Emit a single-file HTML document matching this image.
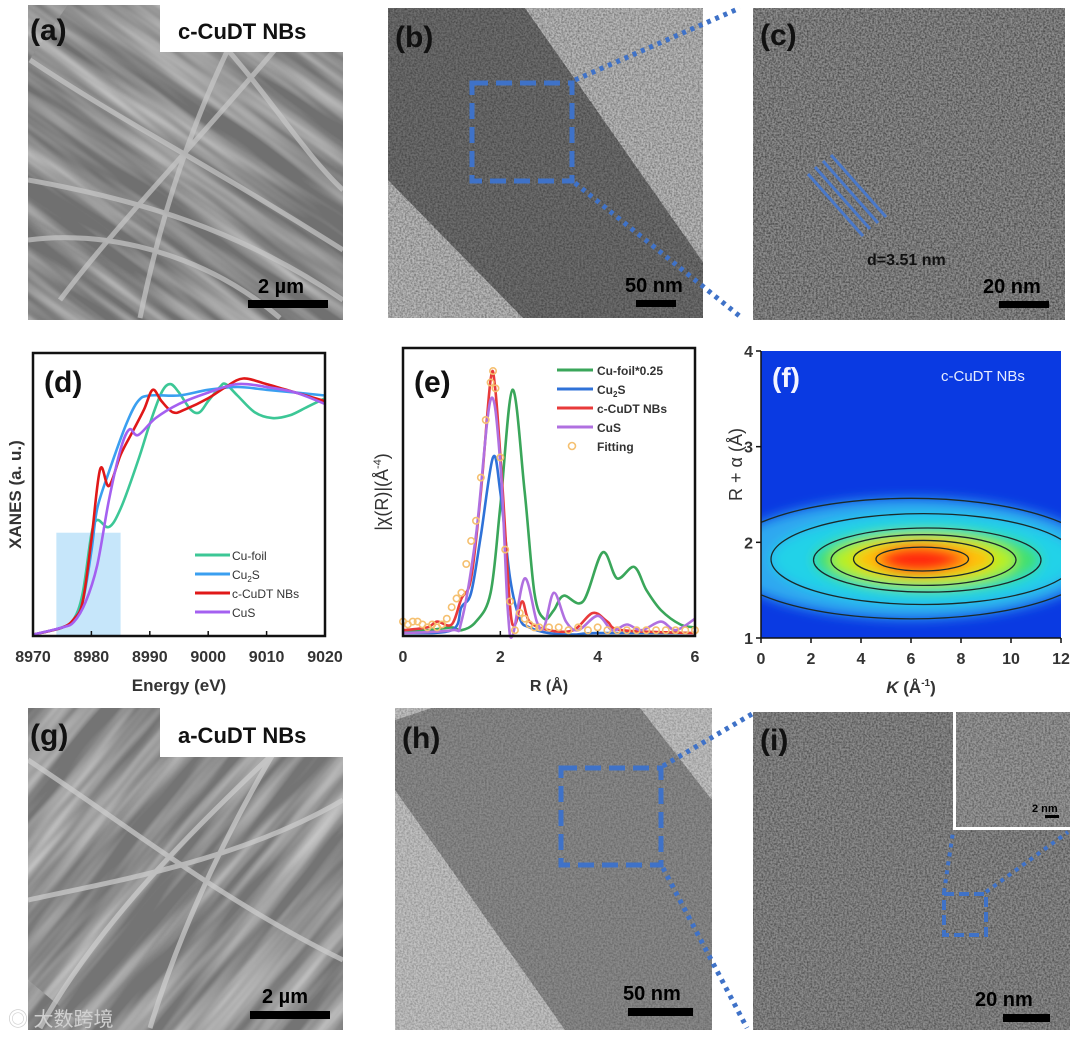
<!DOCTYPE html>
<html><head><meta charset="utf-8"><style>
html,body{margin:0;padding:0;background:#fff;width:1080px;height:1039px;overflow:hidden;font-family:"Liberation Sans",Arial,sans-serif}
svg{position:absolute;left:0;top:0;display:block;height:1039px}
text{font-family:"Liberation Sans",Arial,sans-serif}
</style></head><body>
<svg id="fig" width="1080" height="1039" viewBox="0 0 1080 1039">
<defs>
<filter id="grain" x="0" y="0" width="100%" height="100%">
 <feTurbulence type="fractalNoise" baseFrequency="0.55" numOctaves="2" seed="3" result="n"/>
 <feColorMatrix type="matrix" values="0 0 0 0 0  0 0 0 0 0  0 0 0 0 0  1.4 0 0 0 -0.45" />
 <feComposite in2="SourceGraphic" operator="in"/>
</filter>
<filter id="fibers" x="0" y="0" width="100%" height="100%">
 <feTurbulence type="fractalNoise" baseFrequency="0.004 0.05" numOctaves="3" seed="7"/>
 <feColorMatrix type="matrix" values="0 0 0 0 1  0 0 0 0 1  0 0 0 0 1  1.6 0 0 0 -0.55"/>
</filter>
<pattern id="fibA" patternUnits="userSpaceOnUse" width="600" height="600" patternTransform="rotate(35 185 160)">
 <rect x="0" y="0" width="600" height="600" filter="url(#fibers)"/>
</pattern>
<pattern id="fibG" patternUnits="userSpaceOnUse" width="600" height="600" patternTransform="rotate(-50 185 870)">
 <rect x="0" y="0" width="600" height="600" filter="url(#fibers)"/>
</pattern>
<filter id="blur3"><feGaussianBlur stdDeviation="6"/></filter>
<clipPath id="clipA"><rect x="28" y="5" width="315" height="315"/></clipPath>
<clipPath id="clipG"><rect x="28" y="708" width="315" height="322"/></clipPath>
<clipPath id="clipF"><rect x="761" y="351" width="300" height="287"/></clipPath>
</defs>

<!-- (a) SEM -->
<g clip-path="url(#clipA)">
 <rect x="28" y="5" width="315" height="315" fill="#707070"/>
 <rect x="28" y="5" width="315" height="315" fill="url(#fibA)" opacity="0.75"/>
 <g fill="none" stroke="#c8c8c8" stroke-width="5" opacity="0.7">
  <path d="M30 60 C120 120 200 160 343 250"/><path d="M60 300 C120 220 200 140 300 20"/>
  <path d="M28 180 C140 200 240 230 343 300"/><path d="M140 318 C160 220 190 120 250 5"/>
  <path d="M28 240 C100 230 200 250 280 318"/><path d="M200 20 C260 80 300 150 343 190"/>
 </g>
</g>
<rect x="160" y="5" width="183" height="47" fill="#fff"/>
<text x="30" y="40" font-size="30" font-weight="bold" fill="#111">(a)</text>
<text x="178" y="39" font-size="22" font-weight="bold" fill="#111">c-CuDT NBs</text>
<text x="258" y="293" font-size="20" font-weight="bold" fill="#000">2 µm</text>
<rect x="248" y="300" width="80" height="8" fill="#000"/>

<!-- (b) TEM -->
<g>
 <rect x="388" y="8" width="315" height="310" fill="#b9b9b9"/>
 <polygon points="388,8 525,8 703,262 703,318 523,318 388,180" fill="#6e6e6e"/>
 <rect x="388" y="8" width="315" height="310" fill="#fff" filter="url(#grain)" opacity="0.5"/>
</g>
<text x="395" y="47" font-size="30" font-weight="bold" fill="#111">(b)</text>
<rect x="472" y="83" width="100" height="98" fill="none" stroke="#3f72c8" stroke-width="5" stroke-dasharray="16 8"/>
<line x1="575" y1="80" x2="740" y2="8" stroke="#3f72c8" stroke-width="5" stroke-dasharray="4 5"/>
<line x1="575" y1="183" x2="742" y2="318" stroke="#3f72c8" stroke-width="5" stroke-dasharray="4 5"/>
<text x="625" y="292" font-size="20" font-weight="bold" fill="#000">50 nm</text>
<rect x="636" y="300" width="40" height="7" fill="#000"/>

<!-- (c) HRTEM -->
<g>
 <rect x="753" y="8" width="312" height="312" fill="#8e8e8e"/>
 <rect x="753" y="8" width="312" height="312" fill="#fff" filter="url(#grain)" opacity="0.7"/>
</g>
<text x="760" y="45" font-size="30" font-weight="bold" fill="#111">(c)</text>
<g stroke="#4a78c8" stroke-width="3">
 <line x1="808" y1="174" x2="863" y2="236"/><line x1="815" y1="167" x2="870" y2="229"/>
 <line x1="823" y1="161" x2="878" y2="223"/><line x1="831" y1="155" x2="886" y2="217"/>
</g>
<text x="867" y="265" font-size="16" font-weight="bold" fill="#111">d=3.51 nm</text>
<text x="983" y="293" font-size="20" font-weight="bold" fill="#000">20 nm</text>
<rect x="999" y="301" width="50" height="7" fill="#000"/>

<!-- (d) XANES -->
<g id="chartD"></g>
<!-- (e) FT-EXAFS -->
<g id="chartE"></g>
<!-- (f) WT -->
<g id="chartF"></g>

<!-- (g) SEM -->
<g clip-path="url(#clipG)">
 <rect x="28" y="708" width="315" height="322" fill="#747474"/>
 <rect x="28" y="708" width="315" height="322" fill="url(#fibG)" opacity="0.75"/>
 <g fill="none" stroke="#cfcfcf" stroke-width="5" opacity="0.7">
  <path d="M40 1028 C100 920 200 820 320 710"/><path d="M28 760 C120 820 220 900 343 960"/>
  <path d="M150 1028 C180 930 230 820 300 710"/><path d="M28 900 C120 880 240 860 343 800"/>
 </g>
</g>
<rect x="160" y="708" width="183" height="49" fill="#fff"/>
<text x="30" y="745" font-size="30" font-weight="bold" fill="#111">(g)</text>
<text x="178" y="743" font-size="22" font-weight="bold" fill="#111">a-CuDT NBs</text>
<text x="262" y="1003" font-size="20" font-weight="bold" fill="#000">2 µm</text>
<rect x="250" y="1011" width="80" height="8" fill="#000"/>
<text x="8" y="1026" font-size="20" fill="#d0d0d0" font-family="'Liberation Sans','Noto Sans CJK SC',sans-serif">◎ 大数跨境</text>

<!-- (h) TEM -->
<g>
 <rect x="395" y="708" width="317" height="322" fill="#c2c2c2"/>
 <polygon points="432,708 640,708 712,800 712,1030 565,1030 395,790 395,720" fill="#8a8a8a"/>
 <rect x="395" y="708" width="317" height="322" fill="#fff" filter="url(#grain)" opacity="0.35"/>
</g>
<text x="402" y="748" font-size="30" font-weight="bold" fill="#111">(h)</text>
<rect x="561" y="768" width="100" height="97" fill="none" stroke="#3f72c8" stroke-width="5" stroke-dasharray="16 8"/>
<line x1="663" y1="766" x2="752" y2="714" stroke="#3f72c8" stroke-width="5" stroke-dasharray="4 5"/>
<line x1="663" y1="868" x2="747" y2="1028" stroke="#3f72c8" stroke-width="5" stroke-dasharray="4 5"/>
<text x="623" y="1000" font-size="20" font-weight="bold" fill="#000">50 nm</text>
<rect x="628" y="1008" width="65" height="8" fill="#000"/>

<!-- (i) HRTEM -->
<g>
 <rect x="753" y="712" width="317" height="318" fill="#8c8c8c"/>
 <rect x="753" y="712" width="317" height="318" fill="#fff" filter="url(#grain)" opacity="0.6"/>
</g>
<text x="760" y="750" font-size="30" font-weight="bold" fill="#111">(i)</text>
<g>
 <rect x="953" y="712" width="117" height="118" fill="#fff"/>
 <rect x="956" y="712" width="114" height="115" fill="#999"/>
 <rect x="956" y="712" width="114" height="115" fill="#fff" filter="url(#grain)" opacity="0.55"/>
 <text x="1032" y="812" font-size="11" font-weight="bold" fill="#000">2 nm</text>
 <rect x="1045" y="815" width="14" height="3" fill="#000"/>
</g>
<rect x="944" y="894" width="42" height="41" fill="none" stroke="#3f72c8" stroke-width="4" stroke-dasharray="10 5"/>
<line x1="944" y1="892" x2="953" y2="832" stroke="#3f72c8" stroke-width="4" stroke-dasharray="4 5"/>
<line x1="986" y1="892" x2="1068" y2="832" stroke="#3f72c8" stroke-width="4" stroke-dasharray="4 5"/>
<text x="975" y="1006" font-size="20" font-weight="bold" fill="#000">20 nm</text>
<rect x="1003" y="1014" width="47" height="8" fill="#000"/>
</svg>

<script>
// ---------- (d) XANES data ----------
const dXTicks = [8970, 8980, 8990, 9000, 9010, 9020];
const dCuFoilE = [8970,8975,8977,8978.5,8980,8981,8983,8985,8988,8990,8992,8993.5,8995,8997,8998.5,9000,9002,9003,9005,9008,9011,9014,9017,9020];
const dCuFoilV = [0.005,0.03,0.06,0.15,0.36,0.41,0.385,0.45,0.62,0.75,0.86,0.89,0.86,0.8,0.79,0.83,0.88,0.89,0.85,0.79,0.77,0.78,0.81,0.84];
const dCu2SE = [8970,8975,8977,8978.5,8980,8981,8983,8986,8988,8990,8995,9000,9005,9010,9015,9020];
const dCu2SV = [0.005,0.03,0.06,0.12,0.3,0.45,0.58,0.75,0.83,0.85,0.85,0.87,0.88,0.87,0.86,0.85];
const dCuDTE = [8970,8975,8977,8978.5,8980,8981.5,8983,8985,8987,8989,8990.5,8992,8994,8996,9000,9003,9006,9010,9015,9020];
const dCuDTV = [0.005,0.03,0.06,0.12,0.34,0.59,0.53,0.64,0.72,0.8,0.87,0.83,0.79,0.8,0.84,0.88,0.91,0.89,0.86,0.83];
const dCuSE = [8970,8975,8977,8979,8981,8983,8985,8986.5,8988,8991,8995,9000,9005,9010,9015,9020];
const dCuSV = [0.005,0.03,0.05,0.12,0.25,0.48,0.66,0.73,0.71,0.77,0.82,0.86,0.89,0.88,0.86,0.82];
const dHighlight = [8974, 8985, 0.365];
const dLegend = ["Cu-foil","Cu2S","c-CuDT NBs","CuS"];

// ---------- (e) EXAFS data ----------
const eXTicks = [0, 2, 4, 6];
const eFoilR = [0,0.5,1.0,1.2,1.5,1.8,2.0,2.25,2.5,2.7,2.9,3.1,3.3,3.7,4.1,4.4,4.75,5.0,5.3,5.7,6];
const eFoilV = [0.02,0.02,0.03,0.02,0.05,0.15,0.45,0.855,0.5,0.15,0.06,0.09,0.14,0.12,0.29,0.2,0.24,0.16,0.09,0.04,0.03];
const eCu2SR = [0,1.0,1.2,1.4,1.6,1.85,2.0,2.2,2.4,2.6,3.0,3.5,4.0,6];
const eCu2SV = [0.01,0.02,0.1,0.15,0.35,0.62,0.5,0.2,0.06,0.03,0.01,0.005,0.01,0.01];
const eCuDTR = [0,0.5,0.7,1.0,1.2,1.4,1.6,1.8,1.9,2.05,2.2,2.3,2.45,2.6,3.0,3.5,3.9,4.2,4.5,6];
const eCuDTV = [0.02,0.03,0.05,0.04,0.13,0.2,0.5,0.89,0.85,0.5,0.1,0.04,0.12,0.05,0.02,0.02,0.08,0.05,0.02,0.01];
const eCuSR = [0,1.0,1.2,1.5,1.8,2.0,2.15,2.25,2.5,2.75,2.9,3.1,3.35,3.6,4.0,4.3,4.6,4.9,5.3,5.6,6];
const eCuSV = [0.01,0.02,0.05,0.35,0.82,0.6,0.1,0.0,0.2,0.05,0.03,0.15,0.05,0.02,0.07,0.02,0.04,0.02,0.05,0.02,0.06];
const eFitR = [0,0.1,0.2,0.3,0.4,0.5,0.6,0.7,0.8,0.9,1.0,1.1,1.2,1.3,1.4,1.5,1.6,1.7,1.8,1.85,1.9,2.0,2.1,2.2,2.3,2.4,2.5,2.6,2.7,2.8,3.0,3.2,3.4,3.6,3.8,4.0,4.2,4.4,4.6,4.8,5.0,5.2,5.4,5.6,5.8,6.0];
const eFitV = [0.05,0.04,0.05,0.05,0.04,0.03,0.04,0.03,0.04,0.06,0.1,0.13,0.15,0.25,0.33,0.4,0.55,0.75,0.88,0.92,0.86,0.62,0.3,0.12,0.02,0.08,0.06,0.04,0.03,0.03,0.03,0.03,0.02,0.03,0.02,0.03,0.02,0.02,0.02,0.02,0.02,0.02,0.02,0.02,0.02,0.02];
const eLegend = ["Cu-foil*0.25","Cu2S","c-CuDT NBs","CuS","Fitting"];

// ---------- (f) WT contour data ----------
const fXTicks = [0,2,4,6,8,10,12];
const fYTicks = [1,2,3,4];
const fLevelK0 = [-1.5,0.4,2.1,2.8,3.7,4.6];
const fLevelK1 = [13.5,12.6,11.2,10.2,9.3,8.3];
const fLevelR0 = [1.2,1.35,1.48,1.55,1.63,1.7];
const fLevelR1 = [2.46,2.3,2.15,2.08,2.02,1.95];
const fLevelColor = ["#2fa8f0","#22d2e8","#3fe070","#b8f020","#ffc010","#ff6a10"];

const NS = "http://www.w3.org/2000/svg";
function mk(parent, tag, attrs){ const e=document.createElementNS(NS,tag); for(const k in attrs) e.setAttribute(k,attrs[k]); parent.appendChild(e); return e; }
function smoothPath(pts){
  let d="M"+pts[0][0].toFixed(1)+" "+pts[0][1].toFixed(1);
  for(let i=0;i<pts.length-1;i++){
    const p0=pts[Math.max(0,i-1)],p1=pts[i],p2=pts[i+1],p3=pts[Math.min(pts.length-1,i+2)];
    const c1=[p1[0]+(p2[0]-p0[0])/6,p1[1]+(p2[1]-p0[1])/6], c2=[p2[0]-(p3[0]-p1[0])/6,p2[1]-(p3[1]-p1[1])/6];
    d+=" C"+c1[0].toFixed(1)+" "+c1[1].toFixed(1)+" "+c2[0].toFixed(1)+" "+c2[1].toFixed(1)+" "+p2[0].toFixed(1)+" "+p2[1].toFixed(1);
  }
  return d;
}

// ===== Chart D =====
(function(){
  const g=document.getElementById('chartD');
  const L=33,R=325,T=353,B=636;
  const x=v=>L+(v-8970)/(9020-8970)*(R-L);
  const y=v=>B-v*(B-T);
  const hl=mk(g,'rect',{x:x(dHighlight[0]),y:y(dHighlight[2]),width:x(dHighlight[1])-x(dHighlight[0]),height:B-y(dHighlight[2]),fill:'#c6e6fa'});
  
  
  const series=[[dCuFoilE,dCuFoilV,'#3cc796','cu-foil'],[dCu2SE,dCu2SV,'#3a9ff0','cu2s'],[dCuDTE,dCuDTV,'#e01818','c-cudt-nbs'],[dCuSE,dCuSV,'#a460f0','cus']];
  series.forEach(s=>{
    const p=mk(g,'path',{d:smoothPath(s[0].map((e,i)=>[x(e),y(s[1][i])])),fill:'none',stroke:s[2],'stroke-width':2.6});
    
    
  });
  const fr=mk(g,'rect',{x:L,y:T,width:R-L,height:B-T,fill:'none',stroke:'#111','stroke-width':2.5});
  
  
  dXTicks.forEach(t=>{
    mk(g,'line',{x1:x(t),x2:x(t),y1:B,y2:B-5,stroke:'#111','stroke-width':1.5});
    const tx=mk(g,'text',{x:x(t),y:B+26,'font-size':16,'font-weight':'bold','text-anchor':'middle',fill:'#333'});
    tx.textContent=t;
    
    
  });
  const xt=mk(g,'text',{x:(L+R)/2,y:B+55,'font-size':17,'font-weight':'bold','text-anchor':'middle',fill:'#333'});
  xt.textContent='Energy (eV)';
  
  
  const yt=mk(g,'text',{x:0,y:0,'font-size':17,'font-weight':'bold','text-anchor':'middle',fill:'#333',transform:'translate(21 '+((T+B)/2)+') rotate(-90)'});
  yt.textContent='XANES (a. u.)';
  
  
  const lab=mk(g,'text',{x:44,y:392,'font-size':30,'font-weight':'bold',fill:'#111'});
  lab.textContent='(d)';
  
  
  series.forEach((s,i)=>{
    const yy=555+i*19;
    mk(g,'line',{x1:195,x2:230,y1:yy,y2:yy,stroke:s[2],'stroke-width':3});
    const t=mk(g,'text',{x:232,y:yy+5,'font-size':12,fill:'#333'});
    
    
    if(dLegend[i]==='Cu2S'){ t.innerHTML='Cu<tspan font-size="8" dy="3">2</tspan><tspan dy="-3">S</tspan>'; } else t.textContent=dLegend[i];
  });
})();

// ===== Chart E =====
(function(){
  const g=document.getElementById('chartE');
  const L=403,R=695,T=348,B=636;
  const x=v=>L+v/6*(R-L);
  const y=v=>B-v*(B-T);
  const series=[[eFoilR,eFoilV,'#3aa65a','cu-foil'],[eCu2SR,eCu2SV,'#2f72d8','cu2s'],[eCuDTR,eCuDTV,'#e83a3a','c-cudt-nbs'],[eCuSR,eCuSV,'#b070e0','cus']];
  series.forEach(s=>{
    const p=mk(g,'path',{d:smoothPath(s[0].map((e,i)=>[x(e),y(s[1][i])])),fill:'none',stroke:s[2],'stroke-width':2.6});
    
    
  });
  eFitR.forEach((r,i)=>{
    const c=mk(g,'circle',{cx:x(r),cy:y(eFitV[i]),r:3.2,fill:'none',stroke:'#f5c070','stroke-width':1.6});
    
    
  });
  const fr=mk(g,'rect',{x:L,y:T,width:R-L,height:B-T,fill:'none',stroke:'#111','stroke-width':2.5});
  
  
  eXTicks.forEach(t=>{
    mk(g,'line',{x1:x(t),x2:x(t),y1:B,y2:B-5,stroke:'#111','stroke-width':1.5});
    const tx=mk(g,'text',{x:x(t),y:B+26,'font-size':16,'font-weight':'bold','text-anchor':'middle',fill:'#333'});
    tx.textContent=t;
    
    
  });
  const xt=mk(g,'text',{x:(L+R)/2,y:B+55,'font-size':16,'font-weight':'bold','text-anchor':'middle',fill:'#333'});
  xt.textContent='R (Å)';
  
  
  const yt=mk(g,'text',{x:0,y:0,'font-size':18,'text-anchor':'middle',fill:'#333',transform:'translate(388 '+((T+B)/2)+') rotate(-90)'});
  yt.innerHTML='|χ(R)|(Å<tspan font-size="11" dy="-7">-4</tspan><tspan dy="7">)</tspan>';
  
  
  const lab=mk(g,'text',{x:414,y:392,'font-size':30,'font-weight':'bold',fill:'#111'});
  lab.textContent='(e)';
  
  
  eLegend.forEach((n,i)=>{
    const yy=370+i*19;
    if(i<4) mk(g,'line',{x1:557,x2:593,y1:yy,y2:yy,stroke:series[i][2],'stroke-width':3});
    else mk(g,'circle',{cx:572,cy:yy,r:3.5,fill:'none',stroke:'#f5c070','stroke-width':1.6});
    const t=mk(g,'text',{x:597,y:yy+5,'font-size':12,'font-weight':'bold',fill:'#333'});
    
    
    if(n==='Cu2S'){ t.innerHTML='Cu<tspan font-size="8" dy="3">2</tspan><tspan dy="-3">S</tspan>'; } else t.textContent=n;
  });
})();

// ===== Chart F =====
(function(){
  const g=document.getElementById('chartF');
  const L=761,R=1061,T=351,B=638;
  const x=v=>L+v/12*(R-L);
  const y=v=>B-(v-1)/3*(B-T);
  const cg=mk(g,'g',{'clip-path':'url(#clipF)'});
  const bg=mk(cg,'rect',{x:L,y:T,width:R-L,height:B-T,fill:'#0a3ae2'});
  
  
  const blobs=mk(cg,'g',{filter:'url(#blur3)'});
  fLevelColor.forEach((c,i)=>{
    const e=mk(blobs,'ellipse',{cx:(x(fLevelK0[i])+x(fLevelK1[i]))/2,cy:(y(fLevelR0[i])+y(fLevelR1[i]))/2,rx:(x(fLevelK1[i])-x(fLevelK0[i]))/2,ry:(y(fLevelR0[i])-y(fLevelR1[i]))/2,fill:c});
    
    
  });
  const core=mk(blobs,'ellipse',{cx:x(6.3),cy:y(1.82),rx:x(7.8)-x(6.3),ry:y(1.75)-y(1.9),fill:'#ff2a10'});
  
  
  fLevelColor.forEach((c,i)=>{
    const e=mk(cg,'ellipse',{cx:(x(fLevelK0[i])+x(fLevelK1[i]))/2,cy:(y(fLevelR0[i])+y(fLevelR1[i]))/2,rx:(x(fLevelK1[i])-x(fLevelK0[i]))/2,ry:(y(fLevelR0[i])-y(fLevelR1[i]))/2,fill:'none',stroke:'#1a2a2a','stroke-width':1.3});
    
    
  });
  mk(g,'line',{x1:L,x2:L,y1:T,y2:B,stroke:'#111','stroke-width':1.5});
  mk(g,'line',{x1:L,x2:R,y1:B,y2:B,stroke:'#111','stroke-width':1.5});
  fXTicks.forEach(t=>{
    mk(g,'line',{x1:x(t),x2:x(t),y1:B,y2:B+5,stroke:'#111','stroke-width':1.5});
    const tx=mk(g,'text',{x:x(t),y:B+26,'font-size':16,'font-weight':'bold','text-anchor':'middle',fill:'#333'});
    tx.textContent=t;
    
    
  });
  fYTicks.forEach(t=>{
    mk(g,'line',{x1:L,x2:L-5,y1:y(t),y2:y(t),stroke:'#111','stroke-width':1.5});
    const tx=mk(g,'text',{x:L-8,y:y(t)+6,'font-size':16,'font-weight':'bold','text-anchor':'end',fill:'#333'});
    tx.textContent=t;
    
    
  });
  const xt=mk(g,'text',{x:(L+R)/2,y:B+55,'font-size':17,'font-weight':'bold','text-anchor':'middle',fill:'#333'});
  xt.innerHTML='<tspan font-style="italic">K</tspan> (Å<tspan font-size="10" dy="-7">-1</tspan><tspan dy="7">)</tspan>';
  
  
  const yt=mk(g,'text',{x:0,y:0,'font-size':18,'text-anchor':'middle',fill:'#333',transform:'translate(742 '+((T+B)/2-30)+') rotate(-90)'});
  yt.textContent='R + α (Å)';
  
  
  const lab=mk(g,'text',{x:772,y:387,'font-size':28,'font-weight':'bold',fill:'#f4f4ff'});
  lab.textContent='(f)';
  
  
  const ttl=mk(g,'text',{x:941,y:381,'font-size':15,fill:'#e6ecff'});
  ttl.textContent='c-CuDT NBs';
  
  
})();
</script>
</body></html>
